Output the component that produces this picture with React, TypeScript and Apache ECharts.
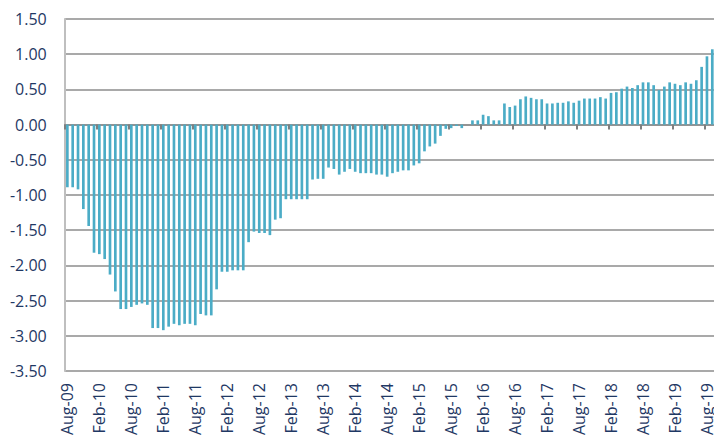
import React, { useEffect, useRef } from "react";
import * as echarts from "echarts";

const MONTHS = ["Jan", "Feb", "Mar", "Apr", "May", "Jun", "Jul", "Aug", "Sep", "Oct", "Nov", "Dec"];
const START_YEAR = 2009;
const START_MONTH = 7; // Aug
const VALUES: number[] = [
  -0.89, -0.89, -0.92, -1.2, -1.44, -1.82, -1.84, -1.91, -2.13, -2.37, -2.62, -2.62,
  -2.59, -2.56, -2.54, -2.56, -2.89, -2.89, -2.92, -2.87, -2.83, -2.85, -2.83, -2.83,
  -2.85, -2.69, -2.71, -2.71, -2.34, -2.09, -2.09, -2.07, -2.07, -2.07, -1.67, -1.52,
  -1.54, -1.54, -1.57, -1.35, -1.33, -1.06, -1.06, -1.06, -1.06, -1.06, -0.78, -0.77,
  -0.77, -0.61, -0.63, -0.71, -0.67, -0.63, -0.67, -0.69, -0.69, -0.69, -0.71, -0.71,
  -0.74, -0.69, -0.67, -0.65, -0.65, -0.58, -0.55, -0.38, -0.31, -0.27, -0.16, -0.06,
  -0.05, -0.02, -0.05, 0.0, 0.06, 0.06, 0.14, 0.12, 0.06, 0.06, 0.3, 0.25,
  0.27, 0.36, 0.4, 0.38, 0.36, 0.36, 0.3, 0.3, 0.31, 0.31, 0.33, 0.31,
  0.34, 0.37, 0.37, 0.37, 0.39, 0.37, 0.45, 0.46, 0.51, 0.54, 0.52, 0.56,
  0.6, 0.6, 0.56, 0.49, 0.54, 0.6, 0.58, 0.56, 0.6, 0.58, 0.63, 0.82,
  0.97, 1.07,
];

const CATEGORIES: string[] = VALUES.map((_, i) => {
  const m = START_MONTH + i;
  const y = START_YEAR + Math.floor(m / 12);
  return MONTHS[m % 12] + "-" + String(y % 100).padStart(2, "0");
});

const Y_MIN = -3.5;
const Y_MAX = 1.5;
const Y_STEP = 0.5;

export default function App() {
  const ref = useRef<HTMLDivElement>(null);
  useEffect(() => {
    if (!ref.current) return;
    const chart = echarts.init(ref.current, null, { renderer: "svg" });
    const navy = "#1f3864";
    const font = "'Open Sans', sans-serif";
    chart.setOption({
      animation: false,
      backgroundColor: "#ffffff",
      grid: {
        left: 64.7,
        top: 19,
        width: CATEGORIES.length * 5.33,
        height: 352,
        outerBoundsMode: "none",
        containLabel: false,
      },
      xAxis: [
        {
          type: "category",
          data: CATEGORIES,
          position: "bottom",
          axisLine: { show: false, onZero: false },
          axisTick: { show: false },
          axisLabel: {
            interval: 5,
            rotate: 90,
            color: navy,
            fontFamily: font,
            fontSize: 16,
            margin: 12,
          },
          splitLine: { show: false },
        },
        {
          type: "category",
          data: CATEGORIES,
          position: "bottom",
          axisLine: { show: true, onZero: true, lineStyle: { color: "#8c8c8c", width: 1.5 } },
          axisTick: { show: true, interval: 5, length: 5, lineStyle: { color: "#7f7f7f", width: 2 } },
          axisLabel: { show: false },
          splitLine: { show: false },
        },
      ],
      yAxis: {
        type: "value",
        min: Y_MIN,
        max: Y_MAX,
        interval: Y_STEP,
        axisLine: { show: true, lineStyle: { color: "#bfbfbf", width: 2 } },
        axisTick: { show: false },
        axisLabel: {
          color: navy,
          fontFamily: font,
          fontSize: 16,
          margin: 18,
          formatter: (v: number) => v.toFixed(2),
        },
        splitLine: { show: true, lineStyle: { color: "#8c8c8c", width: 1.5 } },
      },
      series: [
        {
          type: "bar",
          xAxisIndex: 0,
          data: VALUES,
          barWidth: "50%",
          itemStyle: { color: "#4bacc6" },
        },
      ],
    });
    return () => chart.dispose();
  }, []);
  return (
    <div
      ref={ref}
      style={{ position: "fixed", left: 0, top: 0, width: 714, height: 444, background: "#fff" }}
    />
  );
}
